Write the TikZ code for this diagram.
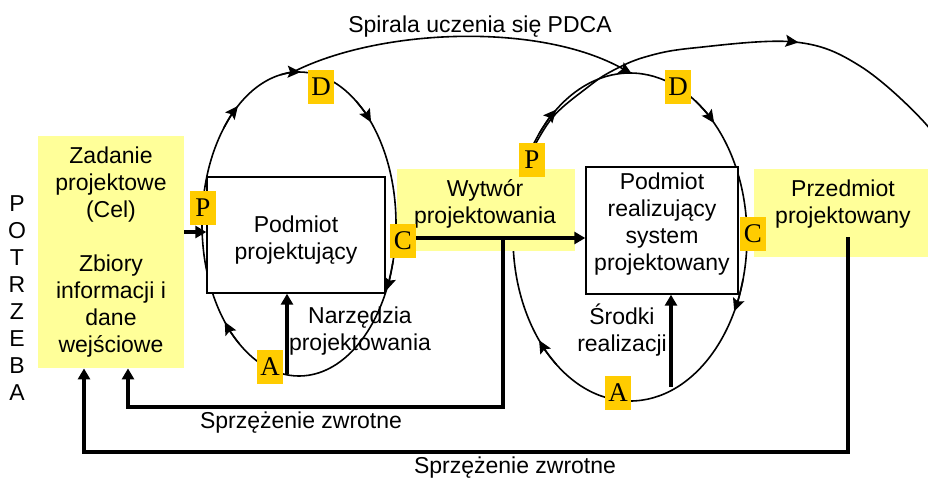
\documentclass[tikz,border=0pt]{standalone}
\usepackage{fontspec}
\setmainfont{Liberation Sans}
\newfontfamily\labserif{Liberation Serif}
\usetikzlibrary{arrows.meta,decorations.markings}
\definecolor{lyel}{HTML}{FFFF99}
\definecolor{lorg}{HTML}{FFCC00}
\newcommand\ellarr[5]{\draw[thinline,tip] ([shift={(#1,#2)}]#5-12:#3 and #4) arc[start angle=#5-12, end angle=#5, x radius=#3, y radius=#4];}
\begin{document}
\begin{tikzpicture}[x=0.5pt,y=-0.5pt,
  thinline/.style={line width=0.8pt},
  thickline/.style={line width=1.7pt},
  tip/.style={-{Stealth[length=6.5pt,width=6pt,inset=1.2pt]}},
  bigtip/.style={-{Triangle[length=5.5pt,width=6pt]}},
  ybox/.style={fill=lyel, draw=none, inner sep=0pt},
  wbox/.style={fill=white, draw=black, line width=0.7pt, inner sep=0pt},
  txt/.style={font=\fontsize{11.5pt}{13.5pt}\selectfont, align=center, inner sep=0pt},
  lab/.style={fill=lorg, minimum width=13pt, minimum height=17pt, inner sep=0pt, font=\labserif\fontsize{13.5pt}{15pt}\selectfont},
]
\useasboundingbox (0,0) rectangle (928,479);

% ellipses (PDCA cycles)
\draw[thinline] (299,224) ellipse [x radius=97, y radius=152];
\draw[thinline] (630,237) ellipse [x radius=117, y radius=164];
\ellarr{299}{224}{97}{152}{231}
\ellarr{299}{224}{97}{152}{271}
\ellarr{299}{224}{97}{152}{318}
\ellarr{299}{224}{97}{152}{26}
\ellarr{299}{224}{97}{152}{140}
\ellarr{630}{237}{117}{164}{231}
\ellarr{630}{237}{117}{164}{316}
\ellarr{630}{237}{117}{164}{27}
\ellarr{630}{237}{117}{164}{141}

% spiral connection
\coordinate (sp1) at (293,72);
\coordinate (sp2) at (632,74);
\draw[thinline,tip] (sp1) .. controls (380,28) and (540,22) .. (sp2);

% outer arc
\draw[thinline, postaction={decorate},
  decoration={markings, mark=at position 0.61 with {\arrow{Stealth[length=6.5pt,width=6pt,inset=1.2pt]}}}]
  plot[smooth, tension=0.6] coordinates {(527,160) (552,118) (588,87) (612,71) (645,57) (693,48) (795,42) (860,66) (925,123) (950,165)};

% boxes
\node[ybox, txt, minimum width=73pt, minimum height=116pt] (zad) at (111,252)
  {Zadanie\\projektowe\\(Cel)\\[13.5pt]Zbiory\\informacji i\\dane\\wejściowe};
\node[ybox, minimum width=89pt, minimum height=41pt] (wyt) at (486,210) {};
\node[ybox, minimum width=87pt, minimum height=44pt] (prz) at (841,213) {};
\node[wbox, minimum width=89pt, minimum height=58pt] (pp) at (296,235) {};
\node[wbox, minimum width=76pt, minimum height=63.5pt] (prs) at (662,230.5) {};

\node[txt] (wytt) at (485,204) {Wytwór\\projektowania};
\node[txt] (przt) at (843,204) {Przedmiot\\projektowany};
\node[txt] (ppt) at (296,240) {Podmiot\\projektujący};
\node[txt] (prst) at (662,224) {Podmiot\\realizujący\\system\\projektowany};

% arrows
\coordinate (pin) at (184,232);
\draw[thickline,bigtip] (pin) -- (pin -| pp.west);
\coordinate (cout) at (416,238);
\draw[thickline,bigtip] (cout) -- (cout -| prs.west);
\coordinate (a1) at (287,374);
\draw[thickline,bigtip] (a1) -- (a1 |- pp.south);
\coordinate (a2) at (671,387);
\draw[thickline,bigtip] (a2) -- (a2 |- prs.south);

% feedback loops
\coordinate (f1a) at (503,238);
\coordinate (f1b) at (128,407);
\draw[thickline,bigtip] (f1a) |- (f1b) -- (f1b |- zad.south);
\coordinate (f2a) at (848,237);
\coordinate (f2b) at (84,452);
\draw[thickline,bigtip] (f2a) |- (f2b) -- (f2b |- zad.south);

% texts
\node[txt] (potrz) at (17,298) {P\\O\\T\\R\\Z\\E\\B\\A};
\node[txt] (narz) at (360,331) {Narzędzia\\projektowania};
\node[txt] (srod) at (622,330) {Środki\\realizacji};
\node[txt] (sz1) at (301,423) {Sprzężenie zwrotne};
\node[txt] (sz2) at (515,468) {Sprzężenie zwrotne};
\node[txt] (spir) at (480,27) {Spirala uczenia się PDCA};

% PDCA labels
\node[lab] (Pl) at (203,208) {P};
\node[lab] (Cl) at (403,241) {C};
\node[lab] (Dl) at (321,87) {D};
\node[lab] (Al) at (270,367) {A};
\node[lab] (Pr) at (532,160) {P};
\node[lab] (Dr) at (678,87) {D};
\node[lab] (Cr) at (753,234) {C};
\node[lab] (Ar) at (618,393) {A};
\end{tikzpicture}
\end{document}
